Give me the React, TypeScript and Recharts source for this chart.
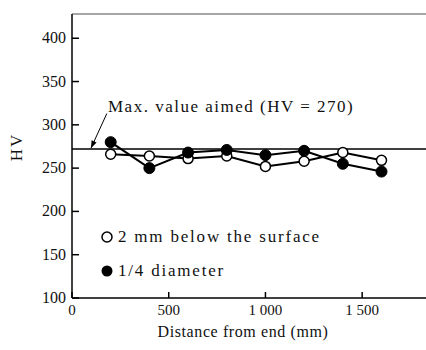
import React from "react";
import {
  LineChart,
  Line,
  XAxis,
  YAxis,
  ReferenceLine,
  Legend,
} from "recharts";

const distances = [200, 400, 600, 800, 1000, 1200, 1400, 1600];
const belowSurface = [266, 264, 261, 264, 252, 258, 268, 259];
const quarterDiameter = [280, 250, 268, 271, 265, 270, 255, 246];
const xTicks = [0, 500, 1000, 1500];
const yTicks = [100, 150, 200, 250, 300, 350, 400];
const aimedValue = 272;
const arrowFrom = { x: 180, y: 313 };
const arrowTo = { x: 98, y: 273 };

const data = distances.map((d, i) => ({
  distance: d,
  surface: belowSurface[i],
  quarter: quarterDiameter[i],
}));

const FONT = "Liberation Serif, Times New Roman, serif";
const X_MAX = 1830;
const Y_MAX = 428;

const serif = (size: number, spacing = 0) => ({
  fontFamily: FONT,
  fontSize: size,
  letterSpacing: spacing,
});

// thousands written as "1 000"
const fmtX = (v: number) =>
  v >= 1000 ? `${Math.floor(v / 1000)} ${String(v % 1000).padStart(3, "0")}` : String(v);

const YTick = (props: any) => {
  const { x, y, payload } = props;
  const axisX = x + 6;
  return (
    <g>
      <line x1={axisX} y1={y} x2={axisX + 7} y2={y} stroke="#000" strokeWidth={1.5} />
      <text x={x} y={y} dy={5} textAnchor="end" style={serif(16)} fill="#111">
        {payload.value}
      </text>
    </g>
  );
};

const XTick = (props: any) => {
  const { x, y, payload } = props;
  const axisY = y - 4;
  return (
    <g>
      <line x1={x} y1={axisY} x2={x} y2={axisY - 6} stroke="#000" strokeWidth={1.5} />
      <text x={x} y={y} dy={13} textAnchor="middle" style={serif(15)} fill="#111">
        {fmtX(payload.value)}
      </text>
    </g>
  );
};

const ArrowShape = (props: any) => {
  const { x1, y1, x2, y2 } = props;
  const ang = Math.atan2(y2 - y1, x2 - x1);
  const len = 8;
  const w = 0.35;
  const p1x = x2 - len * Math.cos(ang - w);
  const p1y = y2 - len * Math.sin(ang - w);
  const p2x = x2 - len * Math.cos(ang + w);
  const p2y = y2 - len * Math.sin(ang + w);
  return (
    <g>
      <line x1={x1} y1={y1} x2={x2} y2={y2} stroke="#000" strokeWidth={1} />
      <polygon points={`${x2},${y2} ${p1x},${p1y} ${p2x},${p2y}`} fill="#000" />
    </g>
  );
};

const renderLegend = () => (
  <svg width={260} height={60} style={{ overflow: "visible" }}>
    <circle cx={9} cy={12} r={5} fill="#fff" stroke="#000" strokeWidth={1.5} />
    <text x={20} y={12} dy={5} style={serif(17, 1.8)} fill="#111">
      2 mm below the surface
    </text>
    <circle cx={9} cy={46} r={5.5} fill="#000" />
    <text x={20} y={46} dy={5} style={serif(17, 1.8)} fill="#111">
      1/4 diameter
    </text>
  </svg>
);

export default function App() {
  return (
    <div style={{ position: "absolute", left: 0, top: 0, background: "#fff" }}>
      <LineChart
        width={426}
        height={350}
        data={data}
        margin={{ top: 14, right: 0, bottom: 0, left: 0 }}
      >
        <XAxis
          dataKey="distance"
          type="number"
          domain={[0, X_MAX]}
          ticks={xTicks}
          height={52}
          tickSize={0}
          tickMargin={4}
          tickLine={false}
          tick={<XTick />}
          axisLine={{ stroke: "#000", strokeWidth: 1.5 }}
          label={{
            content: (p: any) => (
              <text
                x={p.viewBox.x + p.viewBox.width / 2 - 6}
                y={337}
                textAnchor="middle"
                style={serif(16, 0.6)}
                fill="#111"
              >
                Distance from end (mm)
              </text>
            ),
          }}
        />
        <YAxis
          type="number"
          domain={[100, Y_MAX]}
          ticks={yTicks}
          width={72}
          tickSize={0}
          tickMargin={6}
          tickLine={false}
          tick={<YTick />}
          axisLine={{ stroke: "#000", strokeWidth: 1.5 }}
          label={{
            content: () => (
              <text
                x={22}
                y={147}
                transform="rotate(-90 22 147)"
                textAnchor="middle"
                style={serif(17, 2)}
                fill="#111"
              >
                HV
              </text>
            ),
          }}
        />
        <ReferenceLine y={Y_MAX} stroke="#888" strokeWidth={1.5} />
        <ReferenceLine
          y={aimedValue}
          stroke="#000"
          strokeWidth={1.5}
          label={{
            content: (p: any) => (
              <text x={108} y={p.viewBox.y - 37} style={serif(17, 1.5)} fill="#111">
                Max. value aimed (HV = 270)
              </text>
            ),
          }}
        />
        <ReferenceLine segment={[arrowFrom, arrowTo]} shape={<ArrowShape />} />
        <Line
          dataKey="surface"
          stroke="#000"
          strokeWidth={2}
          dot={{ r: 5, fill: "#fff", stroke: "#000", strokeWidth: 1.5 }}
          isAnimationActive={false}
        />
        <Line
          dataKey="quarter"
          stroke="#000"
          strokeWidth={2}
          dot={{ r: 5.5, fill: "#000", stroke: "#000", strokeWidth: 1 }}
          isAnimationActive={false}
        />
        <Legend
          layout="horizontal"
          verticalAlign="middle"
          align="center"
          content={renderLegend}
          wrapperStyle={{ left: 98, top: 225, width: 260 }}
        />
      </LineChart>
    </div>
  );
}
